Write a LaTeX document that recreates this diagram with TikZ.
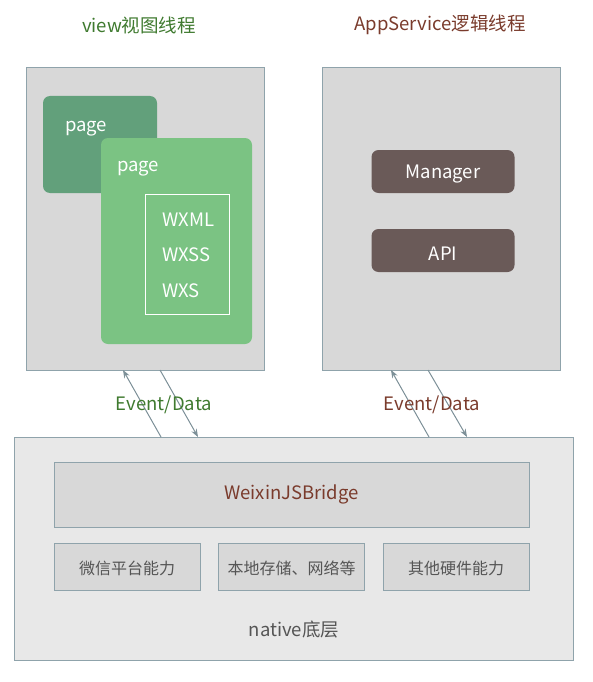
\documentclass[tikz,border=0pt]{standalone}
\usepackage{fontspec}
\setmainfont{Noto Sans CJK SC}
\usetikzlibrary{arrows.meta}
\definecolor{boxgray}{HTML}{D8D8D8}
\definecolor{boxline}{HTML}{8FA3AB}
\definecolor{natfill}{HTML}{E8E8E8}
\definecolor{pagedark}{HTML}{62A07B}
\definecolor{pagelight}{HTML}{7BC383}
\definecolor{brownbox}{HTML}{6A5A58}
\definecolor{titlegreen}{HTML}{3F7A2F}
\definecolor{titlebrown}{HTML}{7A3B2C}
\definecolor{txtgray}{HTML}{555555}
\definecolor{arrowc}{HTML}{7D9098}
\tikzset{
  panel/.style={draw=boxline, fill=boxgray, line width=1pt, inner sep=0pt},
  pagebox/.style={rounded corners=7pt, inner sep=0pt},
  btnbox/.style={fill=brownbox, rounded corners=7pt, inner sep=0pt, minimum width=143pt, minimum height=43pt,
     label={[text=white, font=\fontsize{18.5}{20}\selectfont, inner sep=0pt, yshift=-3pt]center:#1}},
  cell/.style={draw=boxline, fill=boxgray, line width=1pt, inner sep=0pt, minimum width=146pt, minimum height=47pt,
     label={[text=txtgray, font=\fontsize{16}{18}\selectfont, inner sep=0pt, yshift=-1.5pt]center:#1}},
  whitetxt/.style={text=white, font=\fontsize{18.5}{20}\selectfont, inner sep=0pt, anchor=west},
  title/.style={font=\fontsize{18.5}{20}\selectfont, inner sep=0pt},
  arr/.style={draw=arrowc, line width=1pt, -{Stealth[length=8pt,width=6pt]}}
}
\begin{document}
\begin{tikzpicture}[x=1pt,y=-1pt]
\useasboundingbox (0,0) rectangle (593,682);
% titles
\node[title, text=titlegreen] (t1) at (139,25) {view视图线程};
\node[title, text=titlebrown] (t2) at (440,25) {AppService逻辑线程};
% left panel
\node[panel, minimum width=238pt, minimum height=302pt] (view) at (145,219) {};
\node[pagebox, fill=pagedark, minimum width=114pt, minimum height=97pt] (page1) at (100,144.5) {};
\node[whitetxt] (p1t) at (65,128.5) {page};
\node[pagebox, fill=pagelight, minimum width=151pt, minimum height=206pt] (page2) at (176.5,241) {};
\node[whitetxt] (p2t) at (117,168.5) {page};
\node[draw=white, line width=1pt, minimum width=84pt, minimum height=120pt, inner sep=0pt] (files) at (187,254) {};
\node[whitetxt] (wxml) at (162,220) {WXML};
\node[whitetxt] (wxss) at (162,255) {WXSS};
\node[whitetxt] (wxs) at (162,291) {WXS};
% right panel
\node[panel, minimum width=238pt, minimum height=302pt] (svc) at (441,219) {};
\node[btnbox=Manager] (mgr) at (443,171.5) {};
\node[btnbox=API] (api) at (443,250.5) {};
% native
\node[draw=boxline, fill=natfill, line width=1pt, minimum width=559pt, minimum height=223pt, inner sep=0pt] (native) at (293.5,548.5) {};
\node[draw=boxline, fill=boxgray, line width=1pt, inner sep=0pt, minimum width=475pt, minimum height=65pt, text=titlebrown, font=\fontsize{18.5}{20}\selectfont] (bridge) at (291.5,494.5) {WeixinJSBridge};
\node[cell=微信平台能力] (c1) at (127,566.5) {};
\node[cell=本地存储、网络等] (c2) at (291.5,566.5) {};
\node[cell=其他硬件能力] (c3) at (456,566.5) {};
\node[text=txtgray, font=\fontsize{18.5}{20}\selectfont, inner sep=0pt] (nat) at (294,629.5) {native底层};
% connectors
\coordinate (l1s) at (161,437);
\coordinate (l1e) at (123,370);
\coordinate (l2s) at (160,370);
\coordinate (l2e) at (198,437);
\coordinate (r1s) at (429,437);
\coordinate (r1e) at (391,370);
\coordinate (r2s) at (428,370);
\coordinate (r2e) at (467,437);
\draw[arr] (l1s) -- (l1e);
\draw[arr] (l2s) -- (l2e);
\draw[arr] (r1s) -- (r1e);
\draw[arr] (r2s) -- (r2e);
\node[title, text=titlegreen] (ed1) at (164,404.5) {Event/Data};
\node[title, text=titlebrown] (ed2) at (432,404.5) {Event/Data};
\end{tikzpicture}
\end{document}
